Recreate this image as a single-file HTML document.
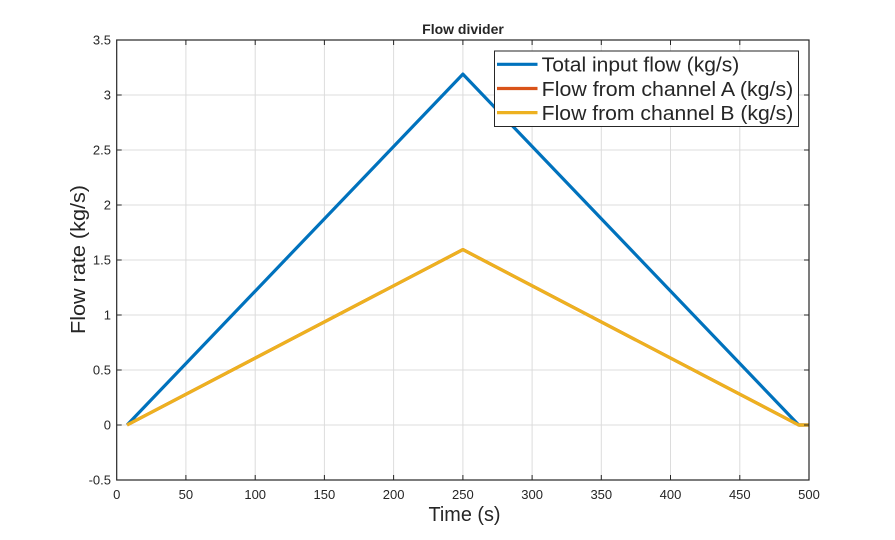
<!DOCTYPE html>
<html><head><meta charset="utf-8"><style>
html,body{margin:0;padding:0;background:#fff;}
svg{display:block;}
text{font-family:"Liberation Sans",Arial,sans-serif;fill:#262626;}
</style></head><body>
<svg width="895" height="540" viewBox="0 0 895 540" xmlns="http://www.w3.org/2000/svg">
<rect width="895" height="540" fill="#fff"/>
<rect x="116.7" y="40" width="692.3" height="440" fill="#fff"/>
<!-- grid -->
<g stroke="#dcdcdc" stroke-width="1">
<line x1="185.9" y1="40" x2="185.9" y2="480"/>
<line x1="255.2" y1="40" x2="255.2" y2="480"/>
<line x1="324.4" y1="40" x2="324.4" y2="480"/>
<line x1="393.6" y1="40" x2="393.6" y2="480"/>
<line x1="462.9" y1="40" x2="462.9" y2="480"/>
<line x1="532.1" y1="40" x2="532.1" y2="480"/>
<line x1="601.3" y1="40" x2="601.3" y2="480"/>
<line x1="670.5" y1="40" x2="670.5" y2="480"/>
<line x1="739.8" y1="40" x2="739.8" y2="480"/>
<line x1="116.7" y1="425" x2="809" y2="425"/>
<line x1="116.7" y1="370" x2="809" y2="370"/>
<line x1="116.7" y1="315" x2="809" y2="315"/>
<line x1="116.7" y1="260" x2="809" y2="260"/>
<line x1="116.7" y1="205" x2="809" y2="205"/>
<line x1="116.7" y1="150" x2="809" y2="150"/>
<line x1="116.7" y1="95" x2="809" y2="95"/>
</g>
<!-- data -->
<polyline points="127.1,425 462.9,74.1 798.7,425 809,425" fill="none" stroke="#0072BD" stroke-width="3.2" stroke-linejoin="round"/>
<polyline points="127.1,425 462.9,249.6 798.7,425 809,425" fill="none" stroke="#D95319" stroke-width="3.2" stroke-linejoin="round"/>
<polyline points="127.1,425 462.9,249.6 798.7,425 809,425" fill="none" stroke="#EDB120" stroke-width="3.2" stroke-linejoin="round"/>
<!-- axes box -->
<rect x="116.7" y="40" width="692.3" height="440" fill="none" stroke="#262626" stroke-width="1.2"/>
<!-- ticks -->
<g stroke="#262626" stroke-width="1">
<path d="M185.9,480v-5M255.2,480v-5M324.4,480v-5M393.6,480v-5M462.9,480v-5M532.1,480v-5M601.3,480v-5M670.5,480v-5M739.8,480v-5"/>
<path d="M185.9,40v5M255.2,40v5M324.4,40v5M393.6,40v5M462.9,40v5M532.1,40v5M601.3,40v5M670.5,40v5M739.8,40v5"/>
<path d="M116.7,425h5M116.7,370h5M116.7,315h5M116.7,260h5M116.7,205h5M116.7,150h5M116.7,95h5"/>
<path d="M809,425h-5M809,370h-5M809,315h-5M809,260h-5M809,205h-5M809,150h-5M809,95h-5"/>
</g>
<!-- x tick labels -->
<g font-size="13" text-anchor="middle">
<text x="116.7" y="499">0</text>
<text x="185.9" y="499">50</text>
<text x="255.2" y="499">100</text>
<text x="324.4" y="499">150</text>
<text x="393.6" y="499">200</text>
<text x="462.9" y="499">250</text>
<text x="532.1" y="499">300</text>
<text x="601.3" y="499">350</text>
<text x="670.5" y="499">400</text>
<text x="739.8" y="499">450</text>
<text x="809" y="499">500</text>
</g>
<!-- y tick labels -->
<g font-size="13" text-anchor="end">
<text x="111" y="484.5">-0.5</text>
<text x="111" y="429.5">0</text>
<text x="111" y="374.5">0.5</text>
<text x="111" y="319.5">1</text>
<text x="111" y="264.5">1.5</text>
<text x="111" y="209.5">2</text>
<text x="111" y="154.5">2.5</text>
<text x="111" y="99.5">3</text>
<text x="111" y="44.5">3.5</text>
</g>
<!-- title -->
<text x="463" y="34" font-size="14" font-weight="bold" text-anchor="middle" fill="#000">Flow divider</text>
<!-- axis labels -->
<text x="464.5" y="521" font-size="20" text-anchor="middle" textLength="72" lengthAdjust="spacingAndGlyphs">Time (s)</text>
<text transform="translate(85,259.5) rotate(-90)" font-size="20" text-anchor="middle" textLength="149" lengthAdjust="spacingAndGlyphs">Flow rate (kg/s)</text>
<!-- legend -->
<rect x="494.5" y="51" width="304" height="75.5" fill="#fff" stroke="#262626" stroke-width="1"/>
<line x1="497" y1="64.3" x2="537.5" y2="64.3" stroke="#0072BD" stroke-width="3.2"/>
<line x1="497" y1="88.5" x2="537.5" y2="88.5" stroke="#D95319" stroke-width="3.2"/>
<line x1="497" y1="112.6" x2="537.5" y2="112.6" stroke="#EDB120" stroke-width="3.2"/>
<g font-size="20">
<text x="541.7" y="71.7" textLength="197.6" lengthAdjust="spacingAndGlyphs">Total input flow (kg/s)</text>
<text x="541.7" y="95.9" textLength="251.6" lengthAdjust="spacingAndGlyphs">Flow from channel A (kg/s)</text>
<text x="541.7" y="120" textLength="251.6" lengthAdjust="spacingAndGlyphs">Flow from channel B (kg/s)</text>
</g>
</svg>
</body></html>
